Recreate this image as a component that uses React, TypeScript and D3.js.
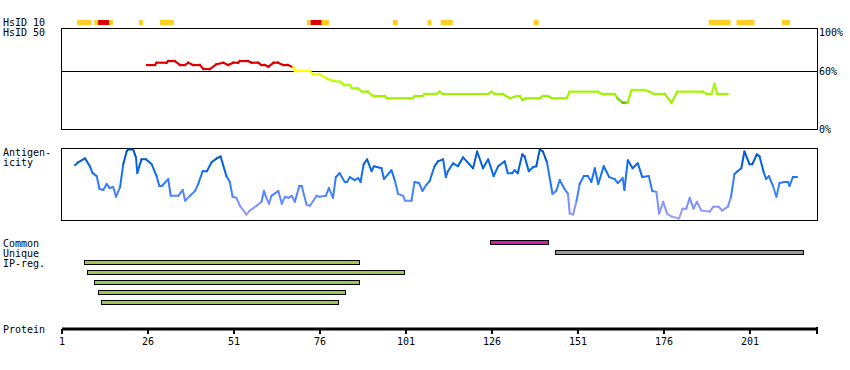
import React from "react";
import * as d3 from "d3";

// ---------- data ----------
const protLength = 220.5;
const tickResidues = [1, 26, 51, 76, 101, 126, 151, 176, 201];

// HsID 10 track segments (residue ranges) and identity level
const hsStart = [5.4, 10.4, 11.5, 14.7, 23.4, 29.5, 72.2, 73.3, 76.5, 97.2, 107.3, 111.1, 138.1, 189.0, 197.1, 210.3];
const hsEnd = [9.6, 11.5, 14.7, 15.8, 24.5, 33.5, 73.3, 76.5, 78.6, 98.6, 108.4, 114.6, 139.6, 195.4, 202.3, 212.6];
const hsLevel = ["mid", "mid", "high", "mid", "mid", "mid", "mid", "high", "mid", "mid", "mid", "mid", "mid", "mid", "mid", "mid"];

// HsID 50 identity profile (%)
const idPos = [25.7, 28.0, 28.5, 31.4, 31.9, 33.8, 35.3, 36.7, 37.7, 39.1, 41.1, 42.1, 44.0, 45.9, 47.9, 49.3, 50.8, 52.2, 52.7, 55.1, 56.1, 58.0, 59.0, 60.0, 61.0, 62.5, 63.8, 65.3, 66.7, 68.2,
  68.7, 73.0, 73.9, 75.9, 77.9, 79.7, 81.8, 83.0, 84.7, 85.3, 87.0, 88.2, 89.9, 91.4, 94.8, 95.4, 103.0, 103.5, 105.9, 106.4, 109.9, 110.8, 111.7, 124.8, 125.9, 126.8, 129.1, 131.2, 133.2, 134.1, 134.9, 136.0, 139.8, 140.7, 142.2, 143.4, 147.7, 148.6, 156.7, 157.9, 161.7, 162.5, 164.0, 165.4, 166.6, 170.4, 171.8, 173.2, 176.2, 178.2, 179.9, 187.2, 188.4, 189.8, 190.7, 191.5, 194.5];
const idVal = [65.6, 65.6, 68, 68, 69.7, 69.7, 65.6, 65.6, 68, 65.6, 65.6, 61.5, 61.5, 66.4, 68, 65.6, 68, 68, 69.7, 69.7, 68, 68, 65.6, 65.6, 63.9, 68, 68, 65.6, 65.6, 63.3,
  59.5, 59.5, 56.1, 56.1, 52, 49.5, 48.5, 45.1, 45.1, 41.7, 41.7, 38.3, 38.3, 33.8, 33.8, 31.5, 31.5, 33.8, 33.8, 35.9, 35.9, 38.3, 35.9, 35.9, 38.3, 35.9, 35.9, 31.5, 33.8, 33.8, 29.7, 31.5, 31.5, 33.8, 33.8, 31.5, 31.5, 38.3, 38.3, 35.9, 35.9, 31.5, 27, 27, 40, 40, 38.3, 35.9, 35.9, 27, 38.3, 38.3, 35.9, 35.9, 46.2, 35.9, 35.9];
const idTicks = [100, 60, 0];

// Antigenicity profile
const agPos = [4.8, 5.7, 7.7, 9.1, 9.9, 11.1, 11.9, 13.0, 14.0, 14.8, 15.9, 16.7, 17.9, 18.8, 19.8, 20.2, 21.7, 22.5, 22.9, 23.4, 24.1, 25.4, 27.1, 28.5, 29.3, 30.0, 31.9, 32.6, 33.8, 34.8, 36.1, 36.8, 38.2, 39.7, 40.6, 41.9, 43.1, 44.5, 46.0, 47.1, 48.8, 49.8, 50.6, 51.7, 52.7, 54.6, 55.6, 57.6, 59.0, 59.7, 60.3, 61.2, 61.9, 63.9, 64.9, 65.8, 66.8, 67.8, 68.7, 70.0, 70.7, 72.1, 73.1, 75.0, 75.9, 77.7, 78.6, 79.8, 80.6, 81.7, 83.2, 83.9, 84.7, 86.1, 87.1, 87.8, 88.7, 89.7, 91.0, 91.7, 93.9, 94.6, 96.8, 97.8, 98.7, 100.2, 100.7, 102.6, 103.5, 104.8, 105.8, 106.9, 107.9, 109.3, 110.3, 111.8, 112.6, 113.2, 114.7, 116.1, 117.6, 120.5, 121.7, 123.4, 124.9, 126.5, 127.8, 129.7, 130.6, 131.9, 132.6, 133.5, 134.8, 135.5, 136.7, 137.9, 138.9, 139.9, 140.8, 142.0, 143.6, 144.7, 145.7, 147.1, 148.1, 148.6, 149.6, 150.6, 151.5, 152.7, 153.9, 154.9, 155.9, 156.9, 158.5, 160.1, 161.7, 162.6, 164.0, 164.5, 165.5, 166.9, 168.4, 169.7, 171.6, 172.6, 173.8, 174.6, 175.8, 176.9, 178.2, 180.4, 181.4, 182.5, 183.5, 184.6, 185.6, 186.9, 189.3, 190.4, 191.9, 192.9, 194.6, 195.5, 196.5, 197.4, 198.5, 199.4, 200.9, 201.7, 203.0, 203.8, 205.0, 205.7, 206.5, 207.7, 208.7, 209.6, 211.1, 212.1, 212.5, 213.5, 214.7];
const agVal = [55, 58, 62, 54, 47, 44, 31, 30, 36, 32, 33, 23, 33, 56, 69, 71, 71, 63, 47, 53, 61, 61, 56, 44, 34, 34, 41, 24, 24, 24, 30, 19, 24, 29, 36, 49, 49, 58, 62, 64, 44, 38, 23, 22, 14, 5, 9, 14, 18, 29, 23, 16, 24, 29, 16, 23, 22, 24, 18, 34, 34, 15, 14, 24, 23, 24, 32, 22, 43, 47, 38, 38, 43, 40, 42, 38, 56, 61, 49, 54, 52, 41, 50, 39, 26, 24, 19, 19, 38, 37, 29, 35, 39, 54, 59, 61, 43, 49, 57, 54, 63, 52, 69, 52, 61, 44, 54, 59, 47, 47, 50, 47, 66, 64, 49, 53, 54, 71, 69, 58, 26, 29, 40, 31, 26, 6, 5, 19, 36, 44, 44, 38, 52, 36, 54, 43, 41, 37, 42, 30, 60, 52, 57, 43, 44, 29, 28, 6, 18, 6, 3, 1, 11, 11, 22, 11, 18, 9, 8, 13, 13, 9, 13, 23, 46, 49, 52, 69, 56, 56, 66, 64, 48, 41, 44, 34, 23, 37, 38, 38, 34, 43, 43];

// Region bars
const barLabels = ["Common", "Unique", "IP-reg."];
const barRow = [0, 1, 2, 3, 4, 5, 6];
const barStart = [125.4, 144.2, 7.5, 8.3, 10.4, 11.6, 12.3];
const barEnd = [142.3, 216.2, 87.4, 100.5, 87.4, 83.3, 81.3];
const barKind = ["common", "unique", "ip", "ip", "ip", "ip", "ip"];

// ---------- styling ----------
const FONT = "'DejaVu Sans Mono', monospace";
const hsColor: Record<string, string> = { high: "#DD0000", mid: "#FFCC22" };
const barColor: Record<string, string> = { common: "#CC22AA", unique: "#999999", ip: "#9EC45C" };

export default function App() {
  const x = d3.scaleLinear().domain([1, protLength]).range([62, 817]);
  const yId = d3.scaleLinear().domain([0, 100]).range([129, 31.5]);
  const yAg = d3.scaleLinear().domain([0, 72]).range([219.5, 148.5]);

  const idGreen = d3
    .scaleLinear<string>()
    .domain([27, 31, 45, 52, 59.5])
    .range(["#55BB00", "#99F000", "#AAFF00", "#CCFF00", "#FFFF00"])
    .clamp(true);
  const idColor = (p: number) => (p >= 60 ? "#DD0000" : idGreen(p));

  const agColor = d3
    .scaleLinear<string>()
    .domain([0, 15, 30, 50, 72])
    .range(["#A8A0FF", "#8090FF", "#3C80FF", "#0A6CF0", "#0048B0"])
    .clamp(true);

  const line = d3.line<[number, number]>();

  const idSegs = idPos.slice(1).map((p, i) => {
    const a: [number, number] = [x(idPos[i]), yId(idVal[i])];
    const b: [number, number] = [x(p), yId(idVal[i + 1])];
    const v = (idVal[i] + idVal[i + 1]) / 2;
    const c = idVal[i] >= 60 && idVal[i + 1] >= 60 ? "#DD0000" : idColor(Math.min(v, 59.9));
    return { d: line([a, b]) as string, c };
  });

  const agSegs = agPos.slice(1).map((p, i) => {
    const a: [number, number] = [x(agPos[i]), yAg(agVal[i])];
    const b: [number, number] = [x(p), yAg(agVal[i + 1])];
    return { d: line([a, b]) as string, c: agColor((agVal[i] + agVal[i + 1]) / 2) };
  });

  const textStyle = { fontFamily: FONT, fontSize: 10, fill: "#000" } as const;

  return (
    <svg width={850} height={370} style={{ position: "absolute", left: 0, top: 0, background: "#fff" }}>
      {/* left labels */}
      <text x={3} y={26} {...textStyle}>HsID 10</text>
      <text x={3} y={36} {...textStyle}>HsID 50</text>
      <text x={3} y={156} {...textStyle}>Antigen-</text>
      <text x={3} y={166} {...textStyle}>icity</text>
      {barLabels.map((l, i) => (
        <text key={l} x={3} y={246.5 + i * 10} {...textStyle}>{l}</text>
      ))}
      <text x={3} y={333} {...textStyle}>Protein</text>

      {/* HsID 10 track */}
      {hsStart.map((s, i) => (
        <rect key={i} x={x(s)} y={20} width={x(hsEnd[i]) - x(s)} height={5} fill={hsColor[hsLevel[i]]} />
      ))}

      {/* identity panel */}
      <rect x={61.5} y={28.5} width={756} height={100.5} fill="none" stroke="#000" strokeWidth={1} shapeRendering="crispEdges" />
      <line x1={61.5} x2={817.5} y1={Math.round(yId(60)) + 0.5} y2={Math.round(yId(60)) + 0.5} stroke="#000" strokeWidth={1} shapeRendering="crispEdges" />
      {idTicks.map((t) => (
        <text key={t} x={819} y={yId(t) + 4} {...textStyle}>{t}%</text>
      ))}
      {idSegs.map((s, i) => (
        <path key={i} d={s.d} stroke={s.c} strokeWidth={2.2} fill="none" strokeLinecap="square" />
      ))}

      {/* antigenicity panel */}
      <rect x={61.5} y={148.5} width={756} height={71.5} fill="none" stroke="#000" strokeWidth={1} shapeRendering="crispEdges" />
      {agSegs.map((s, i) => (
        <path key={i} d={s.d} stroke={s.c} strokeWidth={2} fill="none" strokeLinecap="round" />
      ))}

      {/* region bars */}
      {barRow.map((r, i) => (
        <rect
          key={i}
          x={Math.round(x(barStart[i])) + 0.5}
          y={240.5 + r * 10}
          width={Math.round(x(barEnd[i]) - x(barStart[i]))}
          height={4}
          fill={barColor[barKind[i]]}
          stroke="#000"
          strokeWidth={1}
          shapeRendering="crispEdges"
        />
      ))}

      {/* protein axis */}
      <line x1={x(1)} x2={x(protLength)} y1={329} y2={329} stroke="#000" strokeWidth={3} />
      {tickResidues.map((t) => (
        <g key={t}>
          <line x1={x(t)} x2={x(t)} y1={329} y2={334} stroke="#000" strokeWidth={2} />
          <text x={x(t)} y={345} textAnchor="middle" {...textStyle}>{t}</text>
        </g>
      ))}
      <line x1={x(protLength)} x2={x(protLength)} y1={327} y2={334} stroke="#000" strokeWidth={2} />
    </svg>
  );
}
